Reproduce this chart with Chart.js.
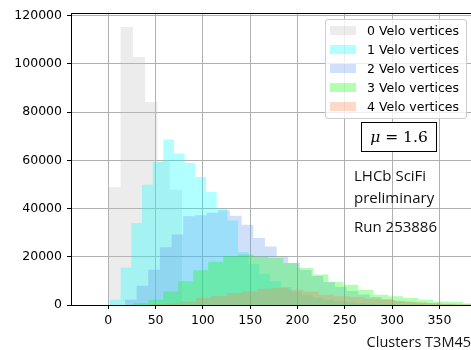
<!DOCTYPE html>
<html>
<head>
<meta charset="utf-8">
<script src="https://cdn.jsdelivr.net/npm/chart.js@4.4.1/dist/chart.umd.min.js"></script>
<style>
  body { margin: 0; background: #fff; }
  #wrap { position: relative; width: 471px; height: 350px; overflow: hidden; }
  #legend {
    position: absolute; left: 325px; top: 19px; width: 140px; height: 97px;
    background: rgba(255,255,255,0.8); border: 1px solid #cccccc; border-radius: 3px;
    font-family: 'DejaVu Sans'; font-size: 12.5px; color: #000; padding-top: 1px;
  }
  .row { position: relative; height: 19px; line-height: 19px; }
  .patch { position: absolute; left: 4px; top: 5px; width: 26px; height: 9px; }
  .txt { position: absolute; left: 41px; top: 0; white-space: nowrap; }
  #mu {
    position: absolute; left: 361px; top: 122px; width: 74px; height: 28px;
    border: 1px solid #000; background: #fff; text-align: center;
    font-family: 'DejaVu Serif'; font-size: 15.5px; line-height: 28px; color: #000;
  }
  .note { position: absolute; left: 354px; font-family: 'Open Sans'; font-size: 15px; line-height: 22px; color: #111; white-space: nowrap; }
</style>
</head>
<body>
<div id="wrap">
  <canvas id="chart" width="471" height="350"></canvas>
  <div id="legend"></div>
  <div id="mu"><i>μ</i> = 1.6</div>
  <div class="note" style="top:164px">LHCb SciFi<br>preliminary</div>
  <div class="note" style="top:215px">Run 253886</div>
</div>
<script>
// Histogram data: per series bin start, bin width and counts
const labels = ['0 Velo vertices', '1 Velo vertices', '2 Velo vertices', '3 Velo vertices', '4 Velo vertices'];
const binStart = [0, 1.8, 17.6, 26.4, 44.3];
const binWidth = [13, 11.28, 12.33, 15.86, 16.2];

const counts0 = [48800, 115300, 102900, 84200, 59600, 47800];
const counts1 = [2200, 15500, 34000, 49900, 59300, 68600, 62800, 58900, 53100, 46900,
                 40000, 35000, 22000, 17000, 13000, 10000, 7500, 5500, 4000, 3000,
                 2200, 1600, 1100, 800, 500, 350, 250, 150, 100, 50];
const counts2 = [2200, 8000, 14600, 24000, 29200, 36800, 37200, 38300, 39300, 37000,
                 33300, 27800, 24300, 20000, 17400, 14500, 12000, 9500, 7500, 5800,
                 4400, 3300, 2500, 1800, 1300, 900, 600, 400, 250, 150];
const counts3 = [800, 2200, 5600, 9800, 14400, 17900, 20200, 20900, 20000, 19500,
                 17400, 15300, 12600, 9500, 8400, 6300, 4300, 3600, 2900, 2200,
                 1500, 1200, 600, 300];
const counts4 = [300, 700, 1500, 2900, 3700, 5000, 5600, 6700, 7000, 6300,
                 5600, 4300, 3600, 3200, 2600, 2100, 1500, 1100, 800, 500, 300];
const allCounts = [counts0, counts1, counts2, counts3, counts4];

const xTicks = [0, 50, 100, 150, 200, 250, 300, 350];
const yTicks = [0, 20000, 40000, 60000, 80000, 100000, 120000];

const colors = ['rgba(192,192,192,0.3)', 'rgba(0,255,255,0.3)', 'rgba(100,149,237,0.3)',
                'rgba(0,255,0,0.3)', 'rgba(255,127,80,0.3)'];

// turn bins into step points (left edges + closing right edge)
function toSteps(start, width, counts) {
    const pts = counts.map((c, i) => ({x: start + i * width, y: c}));
    pts.push({x: start + counts.length * width, y: 0});
    return pts;
}

const datasets = labels.map((lab, i) => ({
    label: lab,
    data: toSteps(binStart[i], binWidth[i], allCounts[i]),
    stepped: true,
    fill: 'origin',
    backgroundColor: colors[i],
    borderColor: 'transparent',
    borderWidth: 0,
    pointRadius: 0,
    order: labels.length - 1 - i
}));

// legend box
const legend = document.getElementById('legend');
labels.forEach((lab, i) => {
    const row = document.createElement('div');
    row.className = 'row';
    row.innerHTML = '<span class="patch" style="background:' + colors[i] + '"></span><span class="txt">' + lab + '</span>';
    legend.appendChild(row);
});

Chart.defaults.font.family = 'DejaVu Sans';
Chart.defaults.font.size = 12.5;
Chart.defaults.color = '#000';

const topSpine = {
    id: 'topSpine',
    afterDraw(chart) {
        const {ctx, chartArea} = chart;
        ctx.save();
        ctx.strokeStyle = '#000';
        ctx.lineWidth = 1;
        ctx.beginPath();
        ctx.moveTo(chartArea.left, chartArea.top + 0.5);
        ctx.lineTo(chartArea.right, chartArea.top + 0.5);
        ctx.stroke();
        ctx.restore();
    }
};

new Chart(document.getElementById('chart'), {
    type: 'line',
    data: { datasets: datasets },
    plugins: [topSpine],
    options: {
        responsive: false,
        animation: false,
        devicePixelRatio: 1,
        layout: { padding: { top: 13, left: 0, right: 0, bottom: 0 } },
        plugins: { legend: { display: false }, tooltip: { enabled: false } },
        elements: { line: { tension: 0 } },
        scales: {
            x: {
                type: 'linear',
                min: -39.4,
                max: 383.4,
                z: 1,
                afterBuildTicks: s => { s.ticks = xTicks.map(v => ({value: v})); },
                afterFit: s => { s.height = 45; },
                grid: { color: '#b0b0b0', tickColor: '#000', tickLength: 4 },
                border: { color: '#000', width: 1 },
                ticks: { padding: 4, maxRotation: 0, autoSkip: false },
                title: {
                    display: true, text: 'Clusters T3M45', align: 'end',
                    font: { family: 'Open Sans', size: 14.5, lineHeight: 1 },
                    padding: { top: 0, bottom: 0 }, color: '#111'
                }
            },
            y: {
                min: 0,
                max: 121100,
                z: 1,
                afterBuildTicks: s => { s.ticks = yTicks.map(v => ({value: v})); },
                afterFit: s => { s.width = 71; },
                grid: { color: '#b0b0b0', tickColor: '#000', tickLength: 4 },
                border: { color: '#000', width: 1 },
                ticks: { padding: 5, callback: v => String(v) }
            }
        }
    }
});
</script>
</body>
</html>
